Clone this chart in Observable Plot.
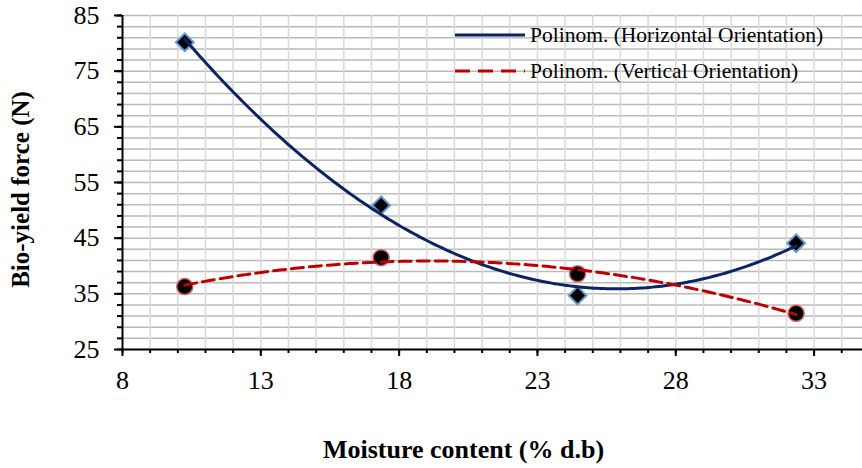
<!DOCTYPE html>
<html><head><meta charset="utf-8">
<script src="https://cdn.jsdelivr.net/npm/d3@7"></script>
<script src="https://cdn.jsdelivr.net/npm/@observablehq/plot@0.6"></script>
<style>
body{margin:0;background:#fff;}
#wrap{position:relative;width:862px;height:468px;font-family:"Liberation Serif","Times New Roman",serif;}
.leg{position:absolute;left:455px;height:24px;font-size:21.5px;display:flex;align-items:center;white-space:nowrap;color:#000;line-height:24px;}
.leg svg{display:block;margin-right:5px;}
</style></head><body><div id="wrap"></div>
<script>
// ---- data ----
const moisture = [10.25, 17.35, 24.45, 32.35];          // % d.b
const forceHorizontal = [80.2, 50.9, 34.7, 44.1];        // N
const forceVertical = [36.3, 41.5, 38.6, 31.5];          // N
const seriesNames = ["Polinom. (Horizontal Orientation)", "Polinom. (Vertical Orientation)"];
const xTicks = [8, 13, 18, 23, 28, 33];
const yTicks = [25, 35, 45, 55, 65, 75, 85];
const xTitle = "Moisture content (% d.b)";
const yTitle = "Bio-yield force (N)";

const navy = "#0a2466", red = "#c00000";

// second-order least-squares trendline (like the spreadsheet "Polinom." trendline)
function quadFit(xs, ys) {
  const S = [0,0,0,0,0], T = [0,0,0];
  xs.forEach((x, i) => { for (let k = 0; k < 5; k++) S[k] += x ** k; for (let k = 0; k < 3; k++) T[k] += ys[i] * x ** k; });
  const A = [[S[0],S[1],S[2],T[0]],[S[1],S[2],S[3],T[1]],[S[2],S[3],S[4],T[2]]];
  for (let c = 0; c < 3; c++) {
    for (let r = c + 1; r < 3; r++) {
      const f = A[r][c] / A[c][c];
      for (let k = c; k < 4; k++) A[r][k] -= f * A[c][k];
    }
  }
  const b = [0,0,0];
  for (let r = 2; r >= 0; r--) {
    let s = A[r][3];
    for (let k = r + 1; k < 3; k++) s -= A[r][k] * b[k];
    b[r] = s / A[r][r];
  }
  return x => b[0] + b[1] * x + b[2] * x * x;
}
function trend(xs, ys) {
  const f = quadFit(xs, ys);
  const [a, z] = d3.extent(xs);
  return d3.range(0, 201).map(i => { const x = a + (z - a) * i / 200; return {x, y: f(x)}; });
}

const hData = moisture.map((x, i) => ({x, y: forceHorizontal[i]}));
const vData = moisture.map((x, i) => ({x, y: forceVertical[i]}));
const hCurve = trend(moisture, forceHorizontal);
const vCurve = trend(moisture, forceVertical);

const plot = Plot.plot({
  width: 862, height: 468,
  marginLeft: 122, marginRight: 0, marginTop: 15, marginBottom: 119,
  x: {domain: [8, 34.75], label: null},
  y: {domain: [25, 85], label: null},
  style: {fontFamily: '"Liberation Serif", "Times New Roman", serif', fontSize: "26px", color: "#000", background: "transparent"},
  marks: [
    Plot.gridY({ticks: d3.range(25, 86, 2), stroke: "#bababa", strokeOpacity: 1, strokeWidth: 1.5}),
    Plot.gridX({ticks: d3.range(9, 35, 1), stroke: "#d9d9d9", strokeOpacity: 1, strokeWidth: 1.5}),
    Plot.dot(hData, {x: "x", y: "y", symbol: "diamond2", r: 8, fill: "#000", stroke: "#5b9bd5", strokeWidth: 2}),
    Plot.dot(vData, {x: "x", y: "y", symbol: "circle", r: 8, fill: "#000", stroke: "#d65a5a", strokeWidth: 1.5}),
    Plot.line(hCurve, {x: "x", y: "y", stroke: navy, strokeWidth: 3}),
    Plot.line(vCurve, {x: "x", y: "y", stroke: red, strokeWidth: 3, strokeDasharray: "12,6"}),
    Plot.axisY({ticks: d3.range(25, 86, 2), tickSize: 5, fill: "none", strokeWidth: 2, label: null}),
    Plot.axisY({ticks: yTicks, tickSize: 8, tickPadding: 15, strokeWidth: 2, label: null}),
    Plot.axisX({ticks: d3.range(8, 35, 1), tickSize: 4, fill: "none", strokeWidth: 2, label: null}),
    Plot.axisX({ticks: xTicks, tickSize: 7, tickPadding: 14, strokeWidth: 2, label: null}),
    Plot.ruleX([8], {stroke: "#000", strokeWidth: 2}),
    Plot.ruleY([25], {stroke: "#000", strokeWidth: 2}),
    Plot.text([xTitle], {text: d => d, frameAnchor: "bottom", textAnchor: "middle", lineAnchor: "middle", dx: -29, dy: 100, fontWeight: "bold", fontSize: 26}),
    Plot.text([yTitle], {text: d => d, frameAnchor: "left", textAnchor: "middle", lineAnchor: "middle", dx: -102, dy: 7, rotate: -90, fontWeight: "bold", fontSize: 25})
  ]
});
const wrap = document.getElementById("wrap");
wrap.appendChild(plot);

// legend (HTML overlay inside plot area, top right)
const legendItems = [
  {name: seriesNames[0], color: navy, dash: null, top: 23},
  {name: seriesNames[1], color: red, dash: "15,8", top: 59}
];
legendItems.forEach(item => {
  const div = document.createElement("div");
  div.className = "leg";
  div.style.top = item.top + "px";
  div.innerHTML = `<svg width="70" height="6"><line x1="0" x2="70" y1="3" y2="3" stroke="${item.color}" stroke-width="3" ${item.dash ? `stroke-dasharray="${item.dash}"` : ""}/></svg><span>${item.name}</span>`;
  wrap.appendChild(div);
});
</script>
</body></html>
